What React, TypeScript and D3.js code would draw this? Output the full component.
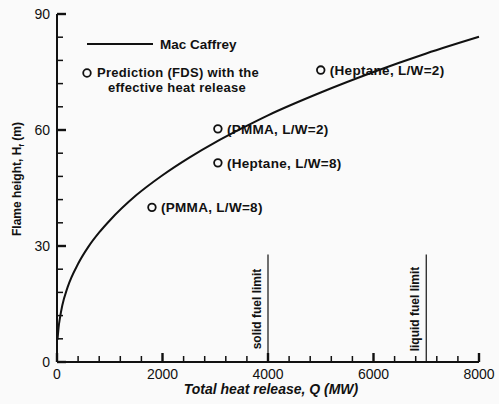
import React from "react";
import * as d3 from "d3";

const curveQ = [10, 30, 60, 100, 200, 400, 600, 800, 1000, 1500, 2000, 2500, 3000, 3500, 4000, 5000, 6000, 7000, 8000];
const curveH = [5.8, 8.9, 11.7, 14.6, 19.3, 25.4, 29.9, 33.5, 36.6, 43.1, 48.3, 52.8, 56.8, 60.4, 63.8, 69.7, 75.0, 79.8, 84.1];

const pointQ = [5000, 3050, 3050, 1800];
const pointH = [75.5, 60.3, 51.5, 40];
const pointLabels = ["(Heptane, L/W=2)", "(PMMA, L/W=2)", "(Heptane, L/W=8)", "(PMMA, L/W=8)"];

const limitQ = [4000, 7000];
const limitLabels = ["solid fuel limit", "liquid fuel limit"];
const limitTop = 27.8;

const xTicks = [0, 2000, 4000, 6000, 8000];
const yTicks = [0, 30, 60, 90];

export default function App() {
  const W = 499, H = 404;
  const x = d3.scaleLinear().domain([0, 8000]).range([57, 479]);
  const y = d3.scaleLinear().domain([0, 90]).range([362, 14]);
  const xMinor = d3.range(0, 8001, 400);
  const yMinor = d3.range(0, 91, 6);
  const line = d3.line<number>().x((_, i) => x(curveQ[i])).y((d) => y(d)).curve(d3.curveMonotoneX);
  const font = "'Liberation Sans', Arial, sans-serif";
  const ink = "#111";
  return (
    <svg width={W} height={H} style={{ position: "absolute", left: 0, top: 0, background: "#fafafa" }} fontFamily={font}>
      <rect width={W} height={H} fill="#fafafa" />
      {/* ticks */}
      {xMinor.map((v) => (
        <rect key={"xm" + v} x={x(v) - (v % 2000 === 0 ? 1.2 : 0.75)} y={y(0) - (v % 2000 === 0 ? 9 : 6)} width={v % 2000 === 0 ? 2.4 : 1.5} height={v % 2000 === 0 ? 9 : 6} fill={ink} />
      ))}
      {yMinor.map((v) => (
        <rect key={"ym" + v} x={x(0)} y={y(v) - (v % 30 === 0 ? 1.2 : 0.75)} width={v % 30 === 0 ? 9 : 6} height={v % 30 === 0 ? 2.4 : 1.5} fill={ink} />
      ))}
      {/* axes */}
      <line x1={x(0)} x2={x(0)} y1={y(90)} y2={y(0)} stroke={ink} strokeWidth={2} />
      <line x1={x(0)} x2={x(8000)} y1={y(0)} y2={y(0)} stroke={ink} strokeWidth={2} />
      {xTicks.map((v) => (
        <text key={"xt" + v} x={x(v)} y={y(0) + 17} fontSize={14} textAnchor="middle" fill={ink}>{v}</text>
      ))}
      {yTicks.map((v) => (
        <text key={"yt" + v} x={x(0) - 7} y={y(v) + 5} fontSize={14} textAnchor="end" fill={ink}>{v}</text>
      ))}
      <text x={271} y={394} fontSize={14} fontWeight="bold" fontStyle="italic" textAnchor="middle" fill={ink}>Total heat release, Q (MW)</text>
      <text transform={`translate(21,179) rotate(-90)`} fontSize={12} fontWeight="bold" textAnchor="middle" fill={ink}>
        Flame height, H<tspan fontSize={8} dy={3}>f</tspan><tspan dy={-3}> (m)</tspan>
      </text>
      {/* curve */}
      <path d={line(curveH) || ""} fill="none" stroke={ink} strokeWidth={2} />
      {/* limits */}
      {limitQ.map((q, i) => (
        <g key={"l" + q}>
          <line x1={x(q)} x2={x(q)} y1={y(limitTop)} y2={y(0)} stroke={ink} strokeWidth={1.2} />
          <text transform={`translate(${x(q) - 7},309) rotate(-90)`} fontSize={12} fontWeight="bold" textAnchor="middle" fill={ink}>{limitLabels[i]}</text>
        </g>
      ))}
      {/* points */}
      {pointQ.map((q, i) => (
        <g key={"p" + i}>
          <circle cx={x(q)} cy={y(pointH[i])} r={3.8} fill="none" stroke={ink} strokeWidth={1.8} />
          <text x={x(q) + 9} y={y(pointH[i]) + 5} fontSize={13.5} fontWeight="bold" letterSpacing={0.3} fill={ink}>{pointLabels[i]}</text>
        </g>
      ))}
      {/* legend */}
      <line x1={87} x2={153} y1={44} y2={44} stroke={ink} strokeWidth={2} />
      <text x={160} y={49} fontSize={13.5} fontWeight="bold" fill={ink}>Mac Caffrey</text>
      <circle cx={87} cy={73} r={3.8} fill="none" stroke={ink} strokeWidth={1.8} />
      <text x={97} y={77} fontSize={13} fontWeight="bold" letterSpacing={0.3} fill={ink}>Prediction (FDS) with the</text>
      <text x={177} y={92} fontSize={13} fontWeight="bold" letterSpacing={0.3} textAnchor="middle" fill={ink}>effective heat release</text>
    </svg>
  );
}
